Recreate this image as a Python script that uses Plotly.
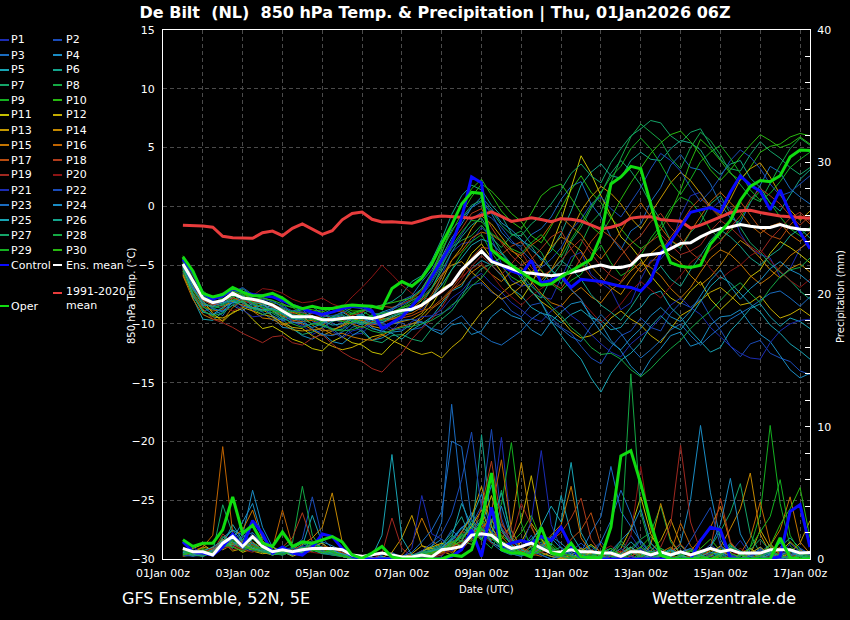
import pandas as pd
import plotly.graph_objects as go

# 6-hourly output from 01Jan 12z to 17Jan 06z
t6 = pd.date_range("2026-01-01 12:00", "2026-01-17 06:00", freq="6h")

member_names = ["P%d" % i for i in range(1, 31)]
base_colors = ["#1c2cb4", "#1a4cb8", "#1a6cc0", "#1a8cc4", "#18a4b4", "#14a48c", "#14a468", "#14a844",
               "#14b020", "#28b810", "#c4c000", "#c4ac00", "#c49800", "#c48800", "#c47400", "#c06400",
               "#b84c10", "#b03c1c", "#a02820", "#8c1414"]
member_colors = base_colors + base_colors[:10]

# 850 hPa temperature of the members (degC)
t_p1 = [-5.0,-6.9,-8.2,-8.6,-7.5,-7.2,-8.3,-8.9, -8.6,-8.7,-9.8,-9.4,-10.1,-10.9,-10.5,-9.6, -9.9,-10.9,-10.8,-10.0,-10.2,-10.6,-9.6,-8.6, -8.8,-7.9,-5.9,-3.9,-3.2,-3.0,-1.8,-2.6,
        -4.9,-6.3,-6.8,-6.6,-7.7,-7.9,-6.1,-4.3, -3.9,-5.8,-6.5,-7.1,-8.8,-8.2,-6.2,-4.6, -4.5,-3.4,-0.8,0.9,1.2,-0.3,0.5,-0.2, -2.3,-3.6,-4.1,-4.4,-6.0,-5.3,-3.6,-3.0]
t_p2 = [-4.6,-6.2,-7.4,-8.1,-8.4,-7.3,-6.9,-7.5, -7.6,-7.7,-8.2,-9.3,-9.9,-9.0,-8.8,-9.9, -10.4,-9.5,-9.1,-10.3,-10.7,-10.0,-9.9,-10.5, -10.3,-9.4,-9.1,-8.6,-7.4,-6.7,-6.5,-7.3,
        -7.8,-8.9,-9.4,-8.4,-8.2,-9.5,-10.3,-10.8, -11.9,-12.9,-13.4,-12.0,-11.0,-10.6,-9.5,-10.3, -10.6,-9.1,-8.2,-8.6,-7.9,-9.4,-10.5,-11.9, -12.8,-11.7,-11.4,-12.5,-12.9,-13.2,-14.0,-14.3]
t_p3 = [-5.3,-7.4,-8.9,-8.7,-9.3,-8.0,-7.5,-8.6, -9.0,-9.7,-9.6,-8.9,-8.7,-9.8,-10.2,-10.4, -11.1,-10.3,-10.0,-9.2,-9.1,-8.9,-8.0,-7.6, -6.4,-5.4,-3.9,-2.0,-1.1,-0.1,0.4,-0.6,
        -2.2,-3.1,-3.4,-2.4,-1.9,-0.9,0.6,1.7, 2.1,0.2,-0.9,-2.6,-3.7,-2.1,-1.5,0.4, 1.6,3.5,4.4,3.3,3.1,1.9,0.2,-1.0, -1.4,0.3,1.8,3.4,2.9,1.5,0.8,0.2]
t_p4 = [-5.7,-7.4,-8.5,-9.2,-8.9,-8.4,-8.9,-8.2, -8.0,-9.4,-10.3,-10.4,-11.0,-11.3,-10.8,-11.5, -11.7,-11.0,-10.5,-11.4,-11.2,-10.7,-10.6,-10.0, -9.8,-10.5,-10.9,-10.1,-9.9,-10.9,-10.6,-9.4,
        -8.7,-9.3,-9.6,-10.5,-11.0,-9.8,-9.0,-8.3, -8.1,-9.3,-10.0,-11.4,-12.3,-13.6,-14.4,-13.0, -12.1,-11.0,-10.7,-11.9,-11.6,-10.1,-9.4,-9.3, -8.8,-10.0,-10.9,-11.5,-12.7,-13.9,-14.6,-14.2]
t_p5 = [-5.1,-7.8,-9.6,-9.7,-9.0,-8.1,-7.3,-7.9, -8.4,-8.6,-9.2,-9.8,-9.4,-9.3,-9.9,-9.4, -9.0,-9.5,-9.8,-10.4,-10.6,-10.8,-11.3,-10.5, -10.0,-9.4,-8.3,-7.2,-6.8,-5.3,-4.6,-5.0,
        -5.9,-7.0,-7.6,-8.6,-9.1,-9.3,-9.9,-9.2, -8.8,-9.5,-9.7,-10.5,-10.3,-9.2,-8.6,-7.5, -7.2,-8.6,-9.4,-10.6,-11.5,-12.4,-12.0,-10.6, -9.7,-8.7,-8.3,-9.4,-10.2,-9.5,-9.8,-10.4]
t_p6 = [-4.4,-6.4,-7.6,-8.3,-8.1,-7.4,-7.0,-7.6, -7.8,-8.0,-8.6,-9.0,-8.8,-8.5,-9.2,-8.7, -8.6,-9.1,-9.3,-8.6,-8.4,-8.1,-7.5,-6.4, -5.9,-4.6,-2.8,-0.7,0.9,1.8,1.4,0.1,
        -0.8,-2.3,-2.9,-3.4,-4.6,-3.8,-2.3,-0.4, 1.8,2.9,3.6,2.6,2.4,3.9,4.6,4.0, 3.9,4.9,5.6,5.4,4.8,3.4,2.7,3.6, 3.9,2.4,1.6,0.3,-0.4,0.9,2.3,3.1]
t_p7 = [-4.8,-6.6,-7.9,-8.5,-8.7,-8.0,-7.9,-8.4, -8.5,-9.1,-9.6,-10.4,-10.9,-10.7,-10.3,-9.8, -9.6,-10.0,-10.7,-11.4,-11.6,-11.0,-10.9,-11.3, -11.5,-10.4,-9.6,-8.9,-7.7,-6.2,-5.3,-4.9,
        -4.3,-5.0,-6.2,-7.3,-7.8,-6.1,-4.9,-3.0, -1.8,-0.2,1.1,2.8,3.9,3.0,1.8,0.2, -1.2,-2.9,-3.6,-2.2,-1.4,0.2,0.9,-0.6, -1.8,-3.1,-3.9,-4.9,-5.6,-6.3,-7.2,-7.9]
t_p8 = [-5.2,-7.0,-8.1,-7.7,-7.8,-8.1,-7.6,-8.3, -8.9,-8.7,-9.0,-9.5,-9.6,-9.6,-10.0,-10.4, -10.5,-9.8,-9.4,-9.4,-9.0,-9.0,-8.7,-8.2, -7.4,-6.0,-4.7,-3.5,-2.9,-2.5,-1.6,-2.7,
        -3.5,-2.5,-2.1,-3.2,-3.9,-5.4,-6.6,-4.8, -3.2,-1.4,-0.5,2.0,4.1,5.9,7.0,6.3, 5.6,4.1,3.2,5.0,6.3,5.6,4.4,2.9, 1.9,0.8,0.4,2.0,3.5,4.9,5.8,5.2]
t_p9 = [-5.5,-7.3,-8.6,-8.8,-8.3,-7.9,-8.1,-8.0, -7.7,-8.2,-8.4,-8.6,-9.1,-9.4,-9.5,-9.0, -8.8,-9.2,-8.9,-9.4,-9.7,-9.6,-9.2,-8.7, -8.5,-7.9,-7.1,-5.4,-4.0,-3.0,-2.4,-3.9,
        -5.1,-6.0,-6.5,-5.6,-5.4,-6.6,-7.2,-6.3, -5.8,-4.4,-3.3,-4.8,-5.9,-5.4,-4.2,-2.7, -1.6,-0.2,0.8,0.4,-0.6,-2.0,-2.8,-2.1, -1.1,0.4,1.3,0.3,-0.9,-1.9,-2.5,-1.8]
t_p10 = [-4.2,-5.9,-7.2,-7.8,-7.9,-7.5,-7.4,-7.9, -8.0,-8.3,-8.9,-9.3,-9.2,-9.6,-9.8,-9.5, -9.7,-9.1,-8.8,-9.0,-9.4,-9.1,-8.6,-8.4, -7.9,-5.8,-3.6,-2.2,-0.6,0.8,1.9,1.3,
         0.4,-0.6,-1.3,-2.5,-3.1,-1.7,-0.2,1.4, 2.6,1.2,0.3,-1.0,-1.9,-2.9,-3.6,-3.0, -2.0,-0.5,1.4,3.8,5.7,4.9,3.9,2.8, 2.2,3.3,4.6,5.1,5.3,5.9,6.2,6.0]
t_p11 = [-5.4,-7.0,-8.0,-9.1,-9.8,-9.0,-8.7,-9.6, -10.4,-10.2,-10.7,-11.3,-11.6,-12.1,-12.3,-11.5, -11.1,-11.6,-11.8,-12.4,-12.6,-11.7,-11.0,-10.3, -9.3,-8.4,-7.0,-6.5,-5.5,-4.0,-3.2,-4.4,
         -5.6,-7.0,-7.9,-6.6,-5.0,-3.4,-1.2,1.5, 4.3,2.8,0.9,-0.8,-2.6,-3.4,-4.5,-5.9, -6.9,-7.8,-8.3,-7.2,-6.4,-7.9,-8.8,-8.0, -7.1,-6.0,-5.4,-4.0,-3.0,-3.5,-4.1,-4.8]
t_p12 = [-5.8,-7.6,-8.8,-9.4,-9.5,-9.1,-8.6,-8.9, -9.2,-9.4,-9.9,-10.3,-10.4,-11.0,-11.5,-11.9, -12.2,-12.0,-11.6,-11.1,-10.9,-11.4,-11.8,-12.3, -12.6,-12.4,-12.9,-12.0,-11.3,-10.1,-9.0,-8.3,
         -7.4,-6.7,-6.3,-7.2,-8.1,-8.7,-9.6,-10.6, -11.2,-11.0,-10.5,-9.5,-8.9,-9.6,-10.1,-11.0, -11.6,-10.4,-9.3,-8.8,-8.0,-7.3,-6.9,-7.6, -8.4,-8.2,-7.6,-8.7,-9.5,-9.2,-8.7,-9.3]
t_p13 = [-4.7,-6.8,-8.3,-8.5,-8.0,-7.7,-8.2,-8.7, -8.8,-9.3,-10.0,-10.5,-10.6,-10.5,-11.0,-10.6, -10.1,-9.6,-9.7,-10.2,-10.4,-10.0,-9.8,-9.6, -9.1,-7.8,-6.4,-4.6,-3.5,-1.9,-0.8,-1.5,
         -2.6,-3.7,-4.5,-5.6,-6.3,-5.4,-4.0,-2.1, -0.4,0.8,1.7,1.1,0.2,-1.0,-1.9,-0.6, 0.6,2.0,2.9,2.2,1.1,0.0,-0.8,0.6, 2.3,3.2,3.7,2.5,1.0,-0.3,-1.2,-0.4]
t_p14 = [-5.0,-6.5,-7.7,-8.3,-8.5,-8.1,-8.4,-8.6, -8.3,-8.9,-9.4,-9.0,-9.3,-10.1,-10.6,-10.5, -10.2,-9.8,-9.9,-10.0,-9.6,-9.5,-9.0,-8.7, -8.0,-7.0,-5.8,-5.0,-4.7,-5.6,-6.3,-7.2,
         -7.9,-7.5,-6.8,-5.6,-4.9,-3.5,-2.6,-3.1, -3.8,-5.1,-6.0,-6.9,-7.5,-6.2,-5.1,-4.0, -3.3,-4.2,-4.8,-5.9,-6.7,-6.0,-5.0,-3.8, -2.9,-3.5,-4.4,-5.4,-6.1,-5.3,-4.9,-5.6]
t_p15 = [-5.9,-7.9,-9.2,-9.6,-9.7,-8.6,-8.0,-8.9, -9.5,-9.6,-10.1,-9.8,-10.0,-10.5,-10.4,-10.9, -10.8,-11.1,-11.3,-11.4,-11.0,-10.5,-10.2,-10.0, -9.6,-8.7,-8.1,-7.1,-6.6,-5.6,-5.0,-5.8,
         -6.4,-5.5,-5.2,-6.4,-7.4,-8.2,-8.5,-7.5, -6.9,-7.7,-8.2,-7.1,-6.5,-5.5,-4.8,-5.2, -5.9,-7.0,-7.8,-6.9,-5.6,-4.4,-3.7,-4.1, -4.9,-5.9,-6.6,-6.0,-5.2,-4.2,-3.6,-2.9]
t_p16 = [-5.2,-7.1,-8.4,-8.9,-8.8,-7.8,-7.2,-8.1, -8.7,-8.8,-9.3,-9.7,-9.8,-9.7,-10.1,-9.6, -9.4,-10.0,-10.3,-9.8,-9.5,-9.6,-9.3,-9.1, -8.6,-7.5,-6.0,-4.6,-3.8,-2.7,-2.2,-2.4,
         -3.0,-3.8,-4.2,-3.3,-2.7,-1.5,-0.9,-1.7, -2.4,-3.6,-4.5,-3.4,-2.1,-0.7,0.3,-0.9, -1.8,-2.9,-3.4,-2.1,-0.9,0.4,1.2,0.3, -0.5,-1.6,-2.3,-1.7,-1.4,-2.4,-3.0,-2.2]
t_p17 = [-4.5,-6.3,-7.5,-7.9,-7.6,-7.3,-7.7,-8.1, -8.2,-8.3,-8.7,-9.1,-9.0,-9.4,-9.3,-9.0, -8.9,-9.4,-9.6,-10.1,-9.9,-9.6,-9.5,-9.3, -8.9,-8.6,-7.9,-7.0,-5.9,-4.4,-3.5,-3.6,
         -4.1,-3.4,-3.0,-4.3,-5.5,-6.5,-7.0,-5.8, -4.4,-3.0,-2.0,-2.6,-3.5,-4.7,-5.6,-4.8, -3.9,-2.6,-1.5,-0.2,0.7,-0.1,-1.0,-0.4, 0.4,-0.8,-1.9,-2.5,-2.8,-1.6,-0.7,-1.5]
t_p18 = [-4.9,-6.7,-8.0,-8.4,-8.2,-7.8,-8.0,-8.3, -8.1,-8.6,-8.8,-9.3,-9.5,-9.1,-9.2,-9.6, -9.8,-9.3,-9.0,-8.6,-8.5,-8.6,-8.3,-7.9, -7.2,-5.8,-4.4,-3.0,-1.9,-0.6,-0.2,-1.8,
         -3.1,-4.2,-5.0,-4.5,-3.6,-2.6,-2.1,-3.6, -4.9,-6.0,-6.8,-5.4,-4.2,-3.2,-2.5,-1.3, -0.6,-1.8,-2.7,-3.9,-4.6,-3.7,-3.0,-1.8, -0.8,0.6,1.5,0.9,0.2,-0.8,-1.6,-0.8]
t_p19 = [-5.6,-7.5,-8.7,-9.6,-9.9,-10.3,-10.8,-11.2, -11.6,-11.1,-11.0,-11.6,-11.8,-11.2,-10.9,-11.7, -12.4,-12.9,-13.2,-13.8,-14.1,-13.2,-12.5,-11.3, -10.4,-9.6,-8.6,-7.2,-6.2,-5.1,-4.2,-5.0,
         -5.8,-4.9,-3.9,-5.2,-6.0,-5.4,-4.6,-3.6, -2.8,-4.0,-5.1,-5.9,-6.4,-5.0,-3.8,-3.0, -2.4,-3.3,-4.1,-3.8,-3.3,-2.1,-1.2,-1.8, -2.6,-3.4,-4.0,-2.8,-1.9,-1.0,-0.5,-1.3]
t_p20 = [-4.3,-6.1,-7.3,-8.1,-8.6,-8.9,-8.5,-7.6, -7.0,-7.1,-7.4,-7.9,-8.2,-8.1,-7.8,-8.3, -8.6,-7.7,-6.9,-6.0,-5.0,-5.8,-6.7,-7.4, -7.9,-7.8,-7.4,-6.6,-6.0,-5.3,-4.8,-5.8,
         -6.9,-7.7,-8.4,-7.6,-7.0,-6.4,-6.1,-7.0, -8.0,-9.0,-9.9,-9.1,-8.3,-7.2,-6.4,-7.1, -7.8,-6.8,-5.9,-4.8,-4.1,-5.3,-6.2,-5.5, -5.0,-4.2,-3.7,-4.6,-5.5,-6.3,-6.9,-6.2]
t_p21 = [-5.1,-6.9,-7.7,-8.3,-8.1,-8.2,-8.8,-9.4, -9.3,-8.8,-9.1,-9.8,-10.2,-10.0,-9.6,-10.6, -11.2,-10.6,-10.4,-10.0,-9.8,-10.4,-10.5,-9.8, -9.4,-9.3,-8.8,-7.8,-7.2,-6.2,-5.7,-6.6,
         -7.3,-8.2,-8.8,-9.5,-9.8,-8.9,-8.4,-9.3, -9.9,-10.9,-11.7,-12.4,-12.8,-11.7,-11.0,-10.4, -9.5,-8.4,-7.8,-8.6,-9.2,-10.3,-11.1,-11.9, -12.5,-12.9,-13.0,-11.6,-10.6,-10.0,-9.7,-9.6]
t_p22 = [-4.6,-6.5,-7.8,-7.9,-7.7,-7.2,-7.3,-7.8, -7.9,-8.1,-8.5,-8.9,-9.0,-9.0,-9.4,-9.3, -9.1,-8.6,-8.7,-9.1,-9.2,-8.8,-8.4,-8.0, -7.6,-6.5,-5.1,-3.6,-2.4,-1.1,-0.5,-1.0,
         -1.8,-2.9,-3.7,-4.6,-5.2,-4.5,-3.5,-2.0, -1.1,0.2,0.8,-0.2,-0.9,0.3,1.6,3.2, 4.5,3.9,3.0,1.6,0.4,1.3,2.5,3.9, 4.8,4.2,3.2,1.9,0.9,1.2,1.9,2.6]
t_p23 = [-5.3,-7.0,-8.1,-8.7,-8.9,-8.2,-7.8,-8.3, -8.6,-9.3,-9.7,-9.4,-9.7,-10.4,-10.9,-11.0, -10.7,-10.0,-9.5,-9.9,-10.1,-10.0,-9.7,-9.6, -9.9,-10.4,-10.6,-9.8,-9.3,-10.3,-10.9,-11.5,
         -11.8,-11.2,-10.6,-9.6,-9.0,-9.8,-10.4,-11.1, -11.5,-10.2,-9.2,-10.1,-10.8,-12.0,-12.9,-12.2, -11.4,-10.5,-10.0,-11.0,-11.8,-11.0,-10.3,-9.6, -9.1,-8.6,-8.0,-7.4,-7.2,-7.8,-8.5,-7.7]
t_p24 = [-4.9,-6.8,-8.4,-8.5,-8.2,-8.0,-8.5,-8.7, -8.4,-8.8,-9.5,-9.9,-9.9,-10.3,-10.0,-9.5, -9.3,-9.8,-10.1,-9.6,-9.0,-8.7,-8.2,-7.7, -7.0,-5.7,-4.3,-2.7,-1.5,-0.1,0.8,-0.2,
         -1.4,-2.0,-2.8,-3.7,-4.4,-5.4,-6.1,-7.1, -7.9,-9.5,-10.7,-11.6,-12.2,-11.2,-10.4,-9.3, -8.6,-9.4,-9.8,-8.9,-7.6,-6.3,-5.4,-6.8, -7.9,-7.0,-6.3,-5.3,-4.7,-5.4,-5.8,-6.5]
t_p25 = [-5.0,-7.6,-9.0,-9.2,-8.6,-8.2,-8.1,-8.6, -8.8,-8.7,-9.1,-9.6,-9.5,-9.4,-9.7,-10.1, -10.0,-9.5,-9.2,-9.7,-9.9,-9.4,-9.1,-8.9, -8.4,-7.7,-6.7,-5.4,-4.4,-3.3,-2.8,-3.1,
         -4.0,-5.0,-5.9,-7.2,-8.2,-9.8,-11.0,-12.1, -13.0,-14.6,-15.8,-14.2,-13.1,-12.5,-11.6,-10.2, -9.3,-10.1,-10.5,-9.4,-8.1,-6.8,-6.0,-6.5, -7.4,-8.3,-9.0,-10.1,-10.8,-11.7,-12.3,-13.0]
t_p26 = [-4.4,-6.2,-7.5,-8.0,-8.3,-7.7,-7.6,-8.2, -8.3,-8.4,-8.7,-9.2,-9.4,-9.0,-9.1,-9.5, -9.6,-9.6,-9.9,-9.5,-9.3,-9.1,-8.8,-8.5, -7.8,-6.9,-5.5,-3.9,-2.6,-1.6,-1.0,-2.5,
         -3.9,-4.9,-5.5,-6.3,-6.6,-5.5,-4.6,-5.3, -6.2,-7.5,-8.4,-9.0,-9.7,-8.6,-7.3,-6.0, -5.1,-6.2,-6.8,-5.4,-4.2,-2.9,-2.0,-2.6, -3.4,-4.4,-5.0,-4.2,-3.6,-2.5,-1.9,-2.7]
t_p27 = [-5.2,-7.1,-8.2,-8.6,-8.4,-8.0,-8.2,-8.7, -8.9,-8.8,-9.2,-9.5,-9.6,-10.0,-9.9,-9.4, -9.2,-9.7,-10.0,-9.9,-9.7,-9.3,-9.0,-8.8, -8.3,-7.0,-5.2,-3.0,-1.0,0.1,0.5,-0.4,
         -1.6,-2.4,-2.5,-1.5,-0.8,0.2,1.4,2.8, 3.6,2.6,2.0,3.7,4.9,6.0,6.6,7.3, 7.1,6.0,5.4,6.3,6.6,5.2,4.0,3.2, 3.0,4.4,5.5,4.7,4.1,3.3,2.7,3.3]
t_p28 = [-5.5,-7.6,-8.9,-9.3,-9.1,-8.4,-8.0,-8.7, -9.2,-9.0,-9.4,-10.0,-10.3,-10.0,-10.1,-10.5, -10.6,-10.5,-10.2,-10.6,-10.8,-10.6,-10.3,-10.2, -10.0,-9.7,-9.2,-8.4,-7.8,-6.8,-6.1,-5.0,
         -4.3,-4.9,-5.7,-6.8,-7.5,-8.5,-9.3,-10.3, -11.0,-12.0,-12.6,-12.5,-13.0,-13.9,-14.5,-13.8, -12.9,-12.1,-11.4,-10.4,-9.6,-8.9,-8.0,-7.1, -6.5,-7.4,-8.2,-7.0,-6.0,-5.4,-5.2,-4.4]
t_p29 = [-4.7,-6.6,-7.6,-8.1,-8.0,-7.6,-7.8,-8.2, -8.6,-8.9,-9.0,-8.9,-9.2,-9.6,-9.5,-9.6, -9.8,-9.9,-9.6,-9.3,-9.1,-9.0,-8.6,-8.0, -7.5,-6.3,-4.9,-3.4,-2.2,-1.2,-1.3,-2.3,
         -2.9,-3.6,-4.0,-3.1,-2.4,-3.5,-4.3,-2.8, -1.5,0.0,1.2,2.5,3.4,4.9,5.8,4.9, 3.6,2.1,1.0,2.3,3.8,4.6,5.2,4.1, 2.8,1.4,0.5,1.1,2.1,3.3,4.0,4.6]
t_p30 = [-4.5,-6.3,-7.4,-7.7,-7.4,-7.2,-7.5,-7.9, -7.8,-8.0,-8.3,-8.6,-8.7,-8.8,-9.0,-8.6, -8.5,-8.9,-8.9,-8.6,-8.4,-8.2,-8.0,-7.8, -7.1,-5.7,-4.0,-1.6,0.2,1.5,2.3,1.0,
         -0.4,-1.3,-1.9,-0.6,0.9,1.6,1.9,0.7, -0.6,-1.7,-2.4,-1.0,0.6,2.0,3.2,4.5, 5.4,6.1,6.4,5.5,4.4,3.1,2.2,3.1, 4.2,5.2,6.1,5.6,5.0,5.3,5.9,5.3]

# 6-hourly precipitation of the members (mm)
r_p1 = [0.5,0.2,0.3,0.4,1.0,1.8,0.9,1.2,0.6,0.3,0.8,0.4,0.9,1.1,0.5,0.7, 0.4,0.1,0.0,0.0,0.1,0.0,0.0,0.3,0.6,0.4,0.2,1.2,2.4,3.0,1.6,3.4,9.2, 2.1,0.8,0.4,1.2,0.6,0.3,0.2,0.9,0.1,0.0,0.0,0.4,1.8,0.7,0.2,0.0, 0.0,0.3,0.8,0.2,0.0,0.0,0.5,1.4,0.3,0.0,0.0,0.6,0.2,0.0,0.1]
r_p2 = [0.8,0.4,0.2,0.6,1.4,1.1,0.7,2.0,1.3,0.4,0.6,0.9,1.5,4.7,1.6,0.8, 0.3,0.2,0.0,0.1,0.0,0.0,0.2,0.0,0.4,0.7,1.0,2.2,1.5,2.6,4.0,9.8,3.1, 1.0,0.6,1.8,0.5,0.2,0.1,0.0,0.3,0.6,1.3,0.4,0.0,0.0,0.2,0.9,0.3, 0.1,0.0,0.0,0.4,1.1,0.5,0.0,0.0,0.2,0.8,0.3,0.0,0.0,0.7,0.2]
r_p3 = [0.3,0.6,0.5,0.2,0.9,1.3,1.0,1.6,0.8,0.5,0.3,0.6,0.7,1.2,0.9,0.4, 0.2,0.0,0.0,0.0,0.3,0.5,0.1,0.0,0.2,0.9,2.8,11.7,4.5,1.9,2.7,1.2,0.6, 0.3,1.4,0.9,0.3,0.0,0.4,1.1,0.5,2.0,3.2,7.0,3.6,2.5,1.3,0.4,0.0, 0.0,0.2,0.0,0.5,0.9,0.2,0.0,0.3,0.0,0.0,0.6,1.2,0.4,0.0,0.0]
r_p4 = [0.7,0.3,0.6,0.4,1.6,2.2,1.8,5.2,2.4,0.9,0.6,0.3,0.5,0.8,1.3,1.0, 0.6,0.3,0.0,0.1,0.0,0.2,0.0,0.0,0.5,1.0,1.5,0.8,2.0,3.5,2.2,1.7,4.0, 1.5,0.7,0.3,0.9,1.6,0.8,0.4,0.0,0.2,0.5,0.3,0.0,0.6,1.4,0.5,0.8, 0.4,1.2,4.5,10.1,5.0,1.5,0.2,0.0,0.4,0.9,0.3,0.0,0.2,0.5,0.1]
r_p5 = [0.4,0.5,0.3,0.8,1.1,2.6,1.4,2.9,1.7,0.6,0.4,0.5,1.0,3.3,1.2,0.6, 0.3,0.1,0.0,0.0,0.2,0.0,0.0,0.1,0.3,0.5,0.8,1.4,2.3,3.1,4.9,2.0,1.1, 0.6,0.9,1.5,2.2,1.0,4.8,1.9,0.7,0.3,0.0,0.0,0.5,1.3,0.6,0.0,0.2, 0.6,0.3,0.0,0.0,0.8,0.4,1.2,0.5,0.0,0.0,0.3,0.9,1.6,0.8,0.3]
r_p6 = [0.2,0.3,0.4,0.3,1.3,0.8,1.9,1.1,0.6,0.3,0.5,0.7,1.3,0.9,0.7,0.5, 0.4,0.2,0.0,0.0,0.0,0.1,0.0,0.2,0.6,0.8,1.1,2.0,3.2,1.4,9.4,2.5,0.9, 0.4,0.2,0.7,1.3,0.5,0.2,0.0,0.4,1.0,0.3,0.0,0.0,0.2,0.6,0.1,0.0, 0.3,1.0,0.4,0.0,0.0,0.2,0.7,0.3,0.0,0.5,1.1,0.4,0.0,0.0,0.3]
r_p7 = [0.9,0.4,0.2,0.5,4.1,1.9,1.2,0.8,0.5,0.4,0.3,0.6,0.9,0.7,0.4,0.3, 0.2,0.0,0.0,0.0,0.0,0.0,0.1,0.0,0.3,0.5,0.7,1.5,0.8,2.4,3.1,1.8,5.2, 1.6,0.5,0.3,0.8,0.4,0.0,0.1,0.6,0.2,0.0,0.3,1.4,0.6,0.0,0.0,0.3, 0.8,0.2,0.0,0.3,0.9,2.1,3.5,5.7,1.9,0.4,0.0,0.2,0.6,0.3,0.0]
r_p8 = [0.5,0.7,0.3,0.4,1.7,1.3,0.6,1.5,0.9,0.6,0.8,1.2,5.5,1.8,0.7,0.4, 0.3,0.1,0.0,0.0,0.0,0.0,0.0,0.1,0.2,0.4,0.6,0.9,1.8,2.7,1.5,0.8,2.2, 1.1,0.4,0.2,0.5,0.9,0.3,0.0,0.2,0.4,0.0,0.0,0.3,0.8,1.5,2.0,4.0, 1.3,0.4,0.0,0.1,0.0,0.4,1.0,0.6,0.2,0.0,0.3,0.8,0.4,0.0,0.2]
r_p9 = [0.6,0.2,0.5,0.7,1.0,1.5,1.1,0.9,0.7,0.3,0.5,0.4,0.6,1.0,0.8,0.6, 0.4,0.1,0.0,0.0,0.1,0.0,0.0,0.0,0.4,0.6,0.9,1.3,1.0,2.0,2.6,3.3,4.1, 8.8,2.7,0.8,0.4,0.2,0.5,0.3,0.0,0.0,0.2,0.6,0.3,0.0,0.4,1.2,0.5, 0.2,0.0,0.0,0.3,0.7,0.2,0.0,0.0,0.9,3.4,10.1,4.2,1.0,0.3,0.0]
r_p10 = [0.4,0.6,0.8,0.5,0.9,1.2,0.7,1.0,1.3,0.5,0.4,0.6,0.8,0.6,0.9,0.7, 0.3,0.2,0.0,0.0,0.0,0.0,0.0,0.3,0.5,0.6,0.8,1.1,1.6,2.2,1.4,2.9,1.8, 1.2,2.0,3.3,1.4,0.6,0.3,0.9,0.4,0.0,0.0,0.2,0.5,0.3,0.9,1.7,0.8, 0.4,0.0,0.2,0.8,1.5,0.6,0.2,0.0,0.0,0.4,1.0,0.5,0.2,0.0,0.0]
r_p11 = [0.3,0.8,1.1,0.6,1.4,1.0,0.5,0.8,0.6,0.9,0.5,0.3,0.7,0.8,0.6,0.4, 0.2,0.0,0.0,0.1,0.0,0.0,0.0,0.2,0.6,0.9,1.2,0.9,1.4,2.5,3.7,1.8,1.0, 0.6,1.3,2.7,1.5,0.4,0.2,0.0,0.6,1.1,0.5,0.2,0.8,2.3,4.7,1.9,0.6, 0.3,0.0,0.2,0.5,0.3,0.0,0.0,0.4,0.8,0.3,0.0,0.5,1.3,0.6,0.2]
r_p12 = [0.6,0.4,0.3,0.9,0.7,1.1,1.3,0.6,0.4,0.5,0.6,0.2,0.5,0.9,1.2,0.6, 0.3,0.1,0.0,0.0,0.0,0.0,0.1,0.4,1.0,0.8,0.6,0.3,1.2,1.9,2.6,4.8,2.3, 1.4,2.9,6.3,2.4,0.8,0.3,0.0,0.2,0.5,0.0,0.0,0.3,0.9,0.4,0.0,0.2, 0.6,0.3,0.0,0.0,0.4,1.0,0.5,0.0,0.3,2.2,0.9,0.4,0.0,0.2,0.6]
r_p13 = [0.2,0.5,0.9,0.7,1.3,0.6,0.8,1.1,0.5,0.3,0.6,0.5,0.4,0.7,0.8,0.5, 0.2,0.0,0.0,0.0,0.1,0.5,1.6,3.3,1.0,0.6,0.4,1.1,2.0,3.2,5.5,2.4,1.3, 0.7,0.4,1.0,0.5,0.2,0.0,0.3,0.8,0.4,0.0,0.2,0.5,0.9,0.3,0.6,1.4, 3.0,1.1,0.2,0.0,0.3,0.6,0.2,0.0,0.4,0.9,0.3,0.0,0.5,1.2,2.9]
r_p14 = [0.7,0.3,0.4,0.6,1.5,1.2,0.9,1.3,0.7,0.4,0.9,0.6,1.1,1.6,2.4,5.0, 1.3,0.2,0.0,0.0,0.0,0.0,0.0,0.1,0.3,0.5,0.7,1.3,0.9,1.6,2.8,2.0,1.5, 2.6,7.3,2.4,0.9,0.4,0.1,0.0,0.5,0.2,0.0,0.3,0.6,0.2,0.0,1.1,4.2, 1.5,0.3,0.0,0.2,0.6,0.9,2.3,3.8,6.5,1.9,0.4,0.0,0.3,0.7,0.2]
r_p15 = [0.5,0.4,0.6,0.5,1.1,1.7,2.2,3.7,1.4,0.6,0.8,0.5,0.7,0.9,0.6,0.4, 0.3,0.1,0.0,0.0,0.0,0.0,0.3,1.2,3.1,1.4,0.8,0.5,1.0,1.9,2.4,3.0,1.7, 0.9,0.5,0.3,1.0,1.8,2.6,5.5,1.6,0.5,0.2,0.0,0.3,0.7,0.2,0.0,0.5, 0.9,0.3,0.6,1.5,2.4,4.0,1.2,0.3,0.0,0.4,1.0,2.2,4.7,1.3,0.4]
r_p16 = [0.4,0.6,0.9,1.8,8.5,2.0,1.0,0.7,0.5,0.8,3.7,1.0,0.6,0.8,0.5,0.9, 0.4,0.2,0.0,0.0,0.0,0.1,0.0,0.0,0.2,0.3,0.5,0.9,1.4,1.1,2.0,3.6,7.5, 2.2,0.8,0.4,0.2,0.6,0.3,0.0,0.2,0.7,0.3,0.0,0.2,0.5,0.9,0.3,0.0, 0.5,2.7,1.0,0.2,0.0,0.3,0.8,0.4,1.6,4.3,1.2,0.3,0.0,0.5,0.2]
r_p17 = [0.8,0.5,0.3,0.4,1.0,0.9,1.4,0.8,1.2,0.6,0.5,0.7,0.4,0.6,1.0,0.8, 0.5,0.2,0.0,0.0,0.0,0.0,0.0,0.1,0.4,0.6,0.9,1.2,0.7,1.5,2.1,1.4,2.6, 1.7,0.9,0.5,1.1,0.7,0.4,1.5,2.2,3.5,1.0,0.3,0.0,0.2,0.6,0.3,0.0, 0.2,0.5,0.2,0.0,0.3,0.7,0.3,0.0,0.2,0.6,0.4,0.9,0.3,0.0,0.1]
r_p18 = [0.3,0.4,0.7,0.5,1.9,1.2,0.6,1.0,0.8,0.5,0.9,1.6,3.5,1.3,0.6,0.4, 0.2,0.0,0.0,0.0,0.0,0.0,0.0,0.0,0.3,0.4,0.6,1.0,2.1,1.7,3.9,7.4,2.8, 1.2,0.6,0.3,0.8,1.4,2.0,3.1,4.6,1.5,0.4,0.0,0.2,0.5,0.2,0.0,0.3, 0.6,1.1,0.4,0.0,0.8,4.6,1.3,0.4,0.0,0.2,0.7,0.3,0.0,0.4,0.2]
r_p19 = [0.6,0.3,0.5,0.8,1.2,0.7,0.9,1.1,0.6,0.4,0.7,0.3,0.8,1.0,0.7,0.5, 0.3,0.1,0.0,0.0,0.4,3.1,0.8,0.2,0.0,0.1,0.3,0.8,1.3,1.9,2.5,1.6,2.0, 1.4,4.2,2.5,0.9,0.4,0.2,0.0,0.4,0.2,0.0,0.3,0.6,0.2,0.0,0.4,0.9, 2.6,8.6,2.8,0.6,0.2,0.0,0.3,0.5,0.2,0.0,0.4,0.2,0.0,0.6,0.3]
r_p20 = [0.2,0.4,0.3,0.6,0.8,1.0,0.7,0.5,0.9,0.6,0.4,0.5,0.7,0.5,0.4,0.6, 0.3,0.1,0.0,0.0,0.0,0.0,0.0,0.0,0.1,0.2,0.4,0.6,1.1,1.4,1.8,1.2,0.9, 0.6,0.4,0.2,0.5,0.8,0.4,0.2,0.0,0.3,0.6,1.0,0.4,1.8,7.0,2.2,0.6, 0.3,0.0,0.2,0.5,0.2,0.0,0.3,0.8,0.4,0.0,0.2,0.5,0.3,0.0,0.2]
r_p21 = [0.5,0.9,0.4,0.3,1.2,1.6,0.8,0.6,0.9,0.5,0.3,0.6,1.0,1.4,0.6,0.5, 0.3,0.0,0.0,0.0,0.0,0.0,0.1,0.8,4.8,1.9,1.5,0.6,1.1,2.0,1.7,3.5,2.4, 1.3,0.8,2.9,8.2,2.6,0.8,0.3,0.0,0.2,0.5,0.2,0.0,0.4,0.8,0.3,0.0, 0.2,0.5,0.3,0.0,0.4,0.9,0.4,0.0,0.2,0.6,0.3,0.0,1.2,0.5,0.2]
r_p22 = [0.3,0.2,0.6,0.4,1.0,1.4,2.1,1.2,0.7,0.5,0.4,0.8,0.6,0.9,0.5,0.3, 0.2,0.1,0.0,0.0,0.0,0.0,0.0,0.2,0.6,1.2,1.9,3.4,6.0,9.6,3.8,2.1,1.0, 0.6,0.3,0.5,1.0,0.4,0.2,0.6,1.2,0.5,0.0,0.3,0.8,0.2,0.0,0.4,0.2, 0.7,0.3,1.4,2.6,3.9,1.0,0.3,0.0,0.2,0.5,0.2,0.0,0.3,0.8,0.4]
r_p23 = [0.6,0.4,0.3,0.7,1.3,0.9,1.7,2.0,1.1,0.6,0.5,0.4,0.9,0.7,0.6,0.4, 0.2,0.0,0.0,0.0,0.1,0.0,0.2,0.5,1.3,2.2,3.6,8.9,8.5,3.0,2.2,1.8,0.7, 0.4,0.2,0.6,0.3,0.0,0.2,0.8,0.4,0.0,1.3,2.9,5.2,3.4,1.1,0.3,0.0, 0.2,0.6,0.3,0.0,0.2,0.5,0.2,0.0,0.3,0.7,0.4,0.0,0.2,0.6,0.3]
r_p24 = [0.4,0.6,0.5,0.3,1.1,1.5,2.8,4.2,1.6,0.7,0.5,0.3,0.6,0.8,0.5,0.6, 0.4,0.2,0.0,0.0,0.0,0.0,0.0,0.0,0.3,0.6,0.9,1.5,2.4,1.9,3.0,5.6,2.2, 1.0,0.5,0.3,0.8,1.7,1.2,0.5,0.2,0.0,0.3,0.6,1.4,2.2,3.8,1.2,0.4, 0.2,0.5,0.8,0.3,0.9,2.6,6.1,1.9,0.5,0.2,0.0,0.3,0.6,0.2,0.0]
r_p25 = [0.5,0.3,0.6,0.9,1.4,2.2,1.3,0.8,0.6,0.4,0.7,0.5,0.8,1.1,0.9,0.6, 0.3,0.2,0.0,0.2,1.8,7.9,1.6,0.3,0.4,0.6,0.8,1.6,4.2,2.5,2.0,1.3,0.8, 0.6,0.9,1.3,2.5,4.0,2.8,7.3,2.0,0.6,0.2,0.0,0.4,0.9,0.4,0.0,0.3, 0.7,0.3,0.0,0.2,0.5,0.3,1.0,0.6,0.2,0.0,0.4,1.3,0.6,0.2,0.0]
r_p26 = [0.3,0.5,0.4,0.6,1.0,1.3,0.8,1.2,0.7,0.4,0.6,0.3,0.5,0.7,0.4,0.5, 0.3,0.1,0.0,0.0,0.0,0.0,0.0,0.1,0.4,0.6,0.8,1.2,1.7,2.3,1.5,2.8,5.0, 1.6,0.7,0.4,1.1,0.6,0.9,0.3,0.0,0.2,0.5,0.8,0.3,0.0,0.2,0.6,0.3, 0.0,0.2,0.6,0.3,0.0,0.4,0.9,0.3,0.0,0.2,0.5,0.2,0.0,0.3,0.1]
r_p27 = [0.6,0.3,0.2,0.5,0.9,1.1,1.5,0.9,0.6,0.3,0.5,0.8,1.2,0.8,0.5,0.4, 0.2,0.0,0.0,0.0,0.0,0.0,0.0,0.2,0.5,0.7,1.0,1.8,1.3,2.9,2.0,1.5,1.1, 0.7,0.3,0.9,1.6,0.8,0.3,0.0,0.4,0.2,0.0,0.5,1.1,0.6,0.2,0.0,0.3, 0.6,0.2,0.0,0.3,0.8,0.4,0.0,0.2,0.7,1.5,0.6,0.2,0.0,0.4,0.2]
r_p28 = [0.4,0.6,0.3,0.4,1.2,1.7,1.0,0.7,0.5,0.6,0.4,0.5,0.9,0.6,0.7,0.3, 0.2,0.1,0.0,0.0,0.0,0.0,0.0,0.0,0.2,0.4,0.6,1.0,1.4,1.1,2.3,1.7,0.9, 0.5,0.3,0.6,0.9,0.4,0.2,0.0,0.3,0.6,0.2,0.0,1.2,14.0,3.5,0.8,0.2, 0.0,0.3,0.6,0.2,0.0,0.5,1.1,0.4,0.0,0.2,0.6,0.3,0.0,0.2,0.1]
r_p29 = [0.7,0.4,0.5,0.3,1.1,0.9,0.6,1.0,0.8,0.5,0.3,0.6,0.7,1.2,0.8,0.5, 0.3,0.1,0.0,0.0,0.0,0.0,0.0,0.2,0.4,0.5,0.7,1.1,1.9,1.3,2.4,1.6,1.0, 0.8,0.4,0.3,0.7,1.2,0.5,0.2,0.0,0.3,0.6,0.2,0.0,0.4,0.9,0.3,0.0, 0.2,0.6,0.3,0.0,0.3,0.8,0.4,0.2,0.9,2.0,3.2,6.0,1.8,0.5,0.2]
r_p30 = [0.3,0.5,0.7,0.4,0.8,1.4,1.1,0.7,0.9,0.5,0.6,0.4,0.8,0.7,0.5,0.6, 0.2,0.1,0.0,0.0,0.0,0.0,0.0,0.1,0.3,0.4,0.6,1.3,1.0,1.7,2.2,1.9,1.4, 0.9,0.5,0.3,0.6,1.0,0.4,0.2,0.0,0.2,0.4,0.8,0.3,0.0,0.2,0.5,0.2, 0.0,0.3,0.7,0.2,0.0,0.3,0.9,0.4,0.0,0.3,1.0,2.6,3.8,5.4,1.6]

# highlighted runs
control_temp = [-4.5,-5.6,-7.4,-7.9,-7.6,-7.0,-7.3,-7.5, -7.6,-7.7,-8.0,-8.4,-8.7,-9.0,-9.2,-9.0,
                -8.7,-8.5,-8.5,-8.9,-10.4,-9.9,-9.4,-8.5, -7.5,-6.0,-4.6,-3.2,-1.0,2.5,2.0,-4.6,
                -5.0,-5.5,-5.8,-4.6,-6.5,-6.3,-5.9,-6.9, -6.2,-6.3,-6.4,-6.6,-6.8,-6.9,-7.2,-6.3,
                -4.0,-3.0,-1.7,-0.5,-0.3,-0.1,-0.5,1.2, 2.6,1.8,1.3,-0.3,1.4,-0.6,-2.2,-3.6]
oper_temp = [-4.3,-5.5,-7.4,-7.7,-7.5,-6.9,-7.3,-7.6, -7.6,-7.4,-7.8,-8.4,-8.7,-8.5,-8.7,-8.7,
             -8.5,-8.4,-8.45,-8.5,-8.7,-7.0,-6.4,-6.8, -6.1,-4.9,-3.2,-1.6,0.2,1.2,1.1,-3.7,
             -4.4,-5.0,-5.6,-6.2,-6.7,-6.6,-6.0,-5.5, -5.0,-4.5,-2.5,1.9,2.5,3.4,3.2,0.3,
             -2.8,-4.8,-5.1,-5.2,-5.0,-3.2,-2.2,-1.2, 0.5,1.7,2.2,2.1,2.6,4.2,4.8,4.75]
mean_temp = [-4.9,-6.3,-7.8,-8.2,-8.0,-7.4,-7.8,-7.9, -8.1,-8.4,-8.9,-9.4,-9.4,-9.4,-9.65,-9.65,
             -9.55,-9.45,-9.45,-9.55,-9.35,-9.05,-8.85,-8.75, -8.4,-7.8,-7.2,-6.6,-5.4,-4.6,-3.8,-4.7,
             -5.0,-5.3,-5.6,-5.7,-5.8,-5.9,-5.8,-5.6, -5.45,-5.15,-5.0,-5.2,-5.2,-5.0,-4.2,-4.1,
             -4.0,-3.6,-3.15,-3.1,-2.6,-2.2,-1.9,-1.75, -1.55,-1.7,-1.8,-1.8,-1.55,-1.8,-1.95,-2.0]
clim_temp = [-1.6,-1.62,-1.68,-1.78,-2.55,-2.68,-2.7,-2.72, -2.25,-2.1,-2.5,-1.87,-1.5,-1.95,-2.38,-2.07,
             -1.15,-0.6,-0.48,-1.1,-1.33,-1.32,-1.35,-1.44, -1.2,-0.93,-0.82,-0.85,-0.93,-1.02,-0.75,-0.47,
             -0.85,-1.28,-1.15,-0.98,-1.12,-1.3,-1.05,-1.1, -1.25,-1.6,-1.93,-1.78,-1.53,-1.0,-0.9,-0.88,
             -1.12,-1.2,-1.27,-1.85,-1.6,-1.25,-0.88,-0.55, -0.38,-0.33,-0.53,-0.68,-0.82,-0.88,-0.95,-1.02]

control_prec = [1.3,0.55,0.45,0.3,0.9,1.9,0.9,2.9, 1.9,0.45,0.9,0.45,0.3,0.9,1.9,1.7,
                0.8,0.2,0.0,0.0,0.0,0.0,0.0,0.0, 0.0,0.0,0.0,0.2,0.7,2.2,0.2,3.9,
                0.9,1.2,1.4,1.2,1.7,1.4,2.4,0.9, 0.1,0.0,0.0,0.0,0.0,0.0,0.0,0.0,
                0.0,0.0,0.0,0.0,1.4,2.4,2.2,0.1, 0.0,0.0,0.0,0.0,0.2,3.6,4.1,0.9]
oper_prec = [1.45,0.95,1.2,1.2,2.2,4.7,1.95,2.55, 1.2,0.95,2.05,0.95,1.3,1.2,1.45,1.7,
             1.3,0.3,0.05,0.45,0.95,0.15,0.0,0.0, 0.0,0.0,0.0,0.3,0.2,0.7,2.9,6.5,
             0.7,0.45,0.45,0.15,2.4,0.45,0.3,1.2, 0.15,0.1,0.1,2.4,7.8,8.2,5.7,2.7,
             0.3,0.0,0.0,0.0,0.0,0.0,0.0,0.0, 0.0,0.0,0.0,0.0,1.6,0.1,0.0,0.0]
mean_prec = [0.8,0.55,0.55,0.3,1.2,1.7,0.95,1.7, 0.95,0.55,0.7,0.55,0.7,0.8,0.8,0.8,
             0.7,0.3,0.2,0.3,0.45,0.3,0.15,0.15, 0.3,0.15,0.7,0.8,0.95,1.8,1.9,1.8,
             1.2,0.8,0.95,1.2,0.8,0.45,0.55,0.7, 0.55,0.55,0.45,0.45,0.2,0.55,0.55,0.3,
             0.55,0.3,0.55,0.3,0.55,0.8,0.55,0.7, 0.45,0.45,0.45,0.7,0.7,0.7,0.45,0.5]

member_temps = [t_p1, t_p2, t_p3, t_p4, t_p5, t_p6, t_p7, t_p8, t_p9, t_p10,
                t_p11, t_p12, t_p13, t_p14, t_p15, t_p16, t_p17, t_p18, t_p19, t_p20,
                t_p21, t_p22, t_p23, t_p24, t_p25, t_p26, t_p27, t_p28, t_p29, t_p30]
member_precs = [r_p1, r_p2, r_p3, r_p4, r_p5, r_p6, r_p7, r_p8, r_p9, r_p10,
                r_p11, r_p12, r_p13, r_p14, r_p15, r_p16, r_p17, r_p18, r_p19, r_p20,
                r_p21, r_p22, r_p23, r_p24, r_p25, r_p26, r_p27, r_p28, r_p29, r_p30]

CONTROL = "#0a0aff"
OPER = "#10dc10"
CLIM = "#e83c3c"
GRID = "#4a4a4a"

fig = go.Figure()

for name, col, tt, rr in zip(member_names, member_colors, member_temps, member_precs):
    fig.add_trace(go.Scatter(x=t6, y=rr, mode="lines", name=name, yaxis="y2",
                             line=dict(color=col, width=1), hoverinfo="skip"))
    fig.add_trace(go.Scatter(x=t6, y=tt, mode="lines", name=name,
                             line=dict(color=col, width=1), hoverinfo="skip"))

fig.add_trace(go.Scatter(x=t6, y=clim_temp, mode="lines", name="1991-2020 mean",
                         line=dict(color=CLIM, width=3)))
fig.add_trace(go.Scatter(x=t6, y=control_prec, mode="lines", name="Control", yaxis="y2",
                         line=dict(color=CONTROL, width=3)))
fig.add_trace(go.Scatter(x=t6, y=control_temp, mode="lines", name="Control",
                         line=dict(color=CONTROL, width=3)))
fig.add_trace(go.Scatter(x=t6, y=mean_prec, mode="lines", name="Ens. mean", yaxis="y2",
                         line=dict(color="white", width=3)))
fig.add_trace(go.Scatter(x=t6, y=mean_temp, mode="lines", name="Ens. mean",
                         line=dict(color="white", width=3)))
fig.add_trace(go.Scatter(x=t6, y=oper_prec, mode="lines", name="Oper", yaxis="y2",
                         line=dict(color=OPER, width=3)))
fig.add_trace(go.Scatter(x=t6, y=oper_temp, mode="lines", name="Oper",
                         line=dict(color=OPER, width=3)))


# pixel -> paper helpers for the hand-drawn legend, axis titles and footer
def fx(px):
    return (px - 163) / 647.0


def fy(py):
    return (559 - py) / 529.0


shapes = []
annotations = []


def text_at(x, y, text, size=11, anchor="left", angle=0):
    annotations.append(dict(text=text, xref="paper", yref="paper", x=fx(x), y=fy(y),
                            xanchor=anchor, yanchor="middle", showarrow=False, textangle=angle,
                            align="left", font=dict(size=size, color="white")))


def legend_item(x_line, x_text, y, color, text):
    shapes.append(dict(type="line", xref="paper", yref="paper", x0=fx(x_line), x1=fx(x_line + 9),
                       y0=fy(y), y1=fy(y), line=dict(color=color, width=2)))
    text_at(x_text, y, text)


for k in range(15):
    yy = 40 + 15 * k
    legend_item(0, 9, yy, member_colors[2 * k], member_names[2 * k])
    legend_item(53, 64, yy, member_colors[2 * k + 1], member_names[2 * k + 1])
legend_item(0, 9, 265, CONTROL, "Control")
legend_item(53, 64, 265, "white", "Ens. mean")
shapes.append(dict(type="line", xref="paper", yref="paper", x0=fx(53), x1=fx(62),
                   y0=fy(293), y1=fy(293), line=dict(color=CLIM, width=2)))
text_at(64, 298, "1991-2020<br>mean")
legend_item(0, 9, 306, OPER, "Oper")

text_at(131, 296, "850 hPa Temp. (°C)", size=10, anchor="center", angle=-90)
text_at(840, 296, "Precipitation (mm)", size=10, anchor="center", angle=-90)
text_at(486, 589, "Date (UTC)", size=10, anchor="center")
text_at(120, 598, "GFS Ensemble, 52N, 5E", size=16)
text_at(650, 598, "Wetterzentrale.de", size=16)

fig.update_layout(
    width=850, height=620,
    paper_bgcolor="black", plot_bgcolor="black",
    margin=dict(l=163, r=40, t=30, b=61),
    font=dict(family="DejaVu Sans", color="white", size=11),
    showlegend=False,
    title=dict(text="<b>De Bilt\u00a0 (NL)\u00a0 850 hPa Temp. & Precipitation | Thu, 01Jan2026 06Z</b>",
               x=435 / 850, xanchor="center", xref="container",
               y=1 - 12 / 620, yanchor="middle", yref="container",
               font=dict(size=16, color="white")),
    xaxis=dict(type="date", range=["2026-01-01 00:00", "2026-01-17 06:00"],
               tick0="2026-01-01", dtick=2 * 86400000, tickformat="%d%b %Hz",
               showgrid=True, gridcolor=GRID, griddash="4px,3px", gridwidth=1,
               minor=dict(dtick=86400000, showgrid=True, gridcolor=GRID, griddash="4px,3px"),
               showline=True, linecolor="white", linewidth=1, mirror=True,
               ticks="", zeroline=False, ticklabelstandoff=4),
    yaxis=dict(range=[-30, 15], dtick=5, showgrid=True, gridcolor=GRID, griddash="4px,3px",
               zeroline=False, showline=True, linecolor="white", linewidth=1, ticks="",
               ticklabelstandoff=5),
    yaxis2=dict(overlaying="y", side="right", range=[0, 40], dtick=10, showgrid=False,
                zeroline=False, showline=True, linecolor="white", linewidth=1,
                ticks="inside", ticklen=5, tickcolor="white", ticklabelstandoff=4,
                minor=dict(dtick=2, ticks="inside", ticklen=5, tickcolor="white")),
    shapes=shapes,
    annotations=annotations,
)

# the page body gets no margin so the figure sits at the window's top-left corner
fig.write_html("out.html", config={"displayModeBar": False},
               post_script="document.body.style.margin='0px';")
